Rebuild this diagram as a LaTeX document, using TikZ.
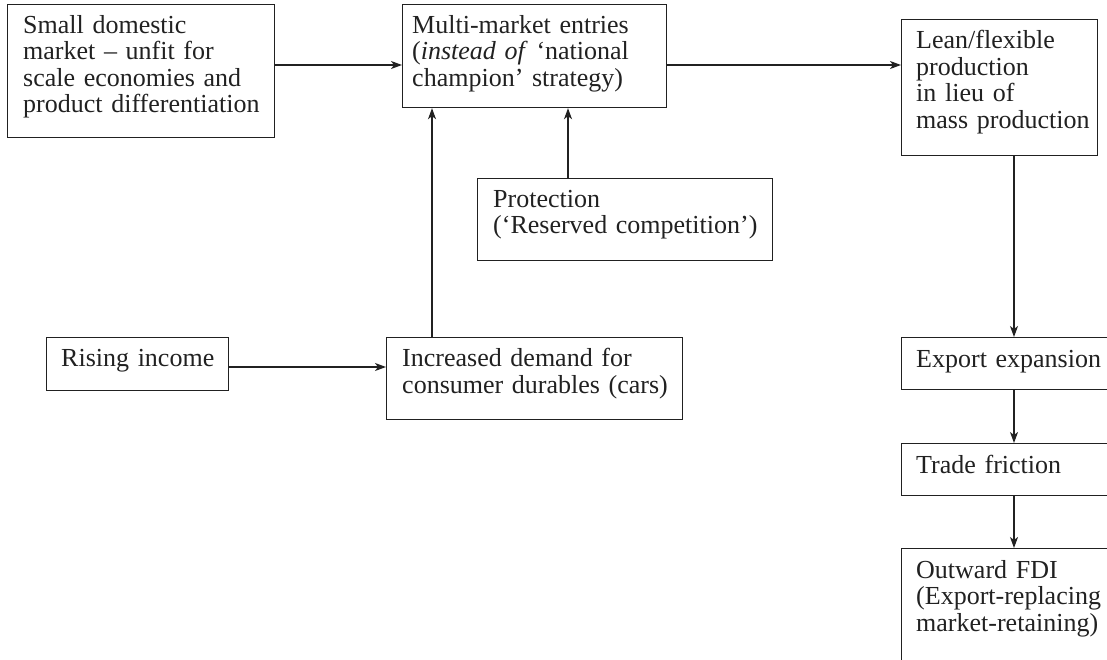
\documentclass[tikz,border=0pt]{standalone}
\usepackage{fontspec}
\setmainfont{Liberation Serif}
\usetikzlibrary{arrows.meta,calc}
\definecolor{ink}{gray}{0.13}
\begin{document}
\begin{tikzpicture}[x=1pt,y=-1pt,
  box/.style 2 args={draw=ink, line width=1.2pt, anchor=north west, inner sep=0pt,
    minimum width=#1, minimum height=#2},
  txt/.style={anchor=base west, inner sep=0pt, text width=400pt, align=left,
    font=\fontsize{26}{26.5}\selectfont, text=ink},
  arr/.style={draw=ink, line width=1.2pt, -{Stealth[length=11pt,width=8pt,inset=3pt]}}]
\useasboundingbox (0,0) rectangle (1107,660);
\clip (0,0) rectangle (1107,660);

% boxes
\node[box={267pt}{133pt}] (small)  at (7,4)     {};
\node[box={264pt}{103pt}] (multi)  at (402,4)   {};
\node[box={196pt}{136pt}] (lean)   at (901,19)  {};
\node[box={295pt}{82pt}]  (prot)   at (477,178) {};
\node[box={182pt}{53pt}]  (income) at (46,337)  {};
\node[box={296pt}{82pt}]  (demand) at (386,337) {};
\node[box={230pt}{52pt}]  (export) at (901,337) {};
\node[box={230pt}{52pt}]  (trade)  at (901,443) {};
\node[box={230pt}{140pt}] (fdi)    at (901,548) {};

% box texts
\node[txt] (smallT) at ($(small.north west)+(16,29.5)$)
  {Small domestic\\market -- unfit for\\scale economies and\\product differentiation};
\node[txt] (multiT) at ($(multi.north west)+(10,29.5)$)
  {Multi-market entries\\(\textit{instead of} ‘national\\champion’ strategy)};
\node[txt] (leanT) at ($(lean.north west)+(15,30)$)
  {Lean/flexible\\production\\in lieu of\\mass production};
\node[txt] (protT) at ($(prot.north west)+(16,29.5)$)
  {Protection\\(‘Reserved competition’)};
\node[txt] (incomeT) at ($(income.north west)+(15,29.5)$) {Rising income};
\node[txt] (demandT) at ($(demand.north west)+(16,29.5)$)
  {Increased demand for\\consumer durables (cars)};
\node[txt] (exportT) at ($(export.north west)+(15,30)$) {Export expansion};
\node[txt] (tradeT) at ($(trade.north west)+(15,30)$) {Trade friction};
\node[txt] (fdiT) at ($(fdi.north west)+(15,30)$)
  {Outward FDI\\(Export-replacing\\market-retaining)};

% connector rows and columns
\coordinate (r1) at (0,65);
\coordinate (r2) at (0,367);
\coordinate (c1) at (1014,0);
\coordinate (c2) at (432,0);
\coordinate (c3) at (568,0);

\draw[arr] (small.east |- r1) -- (multi.west |- r1);
\draw[arr] (multi.east |- r1) -- (lean.west |- r1);
\draw[arr] (lean.south -| c1) -- (export.north -| c1);
\draw[arr] (export.south -| c1) -- (trade.north -| c1);
\draw[arr] (trade.south -| c1) -- (fdi.north -| c1);
\draw[arr] (prot.north -| c3) -- (multi.south -| c3);
\draw[arr] (demand.north -| c2) -- (multi.south -| c2);
\draw[arr] (income.east |- r2) -- (demand.west |- r2);
\end{tikzpicture}
\end{document}
